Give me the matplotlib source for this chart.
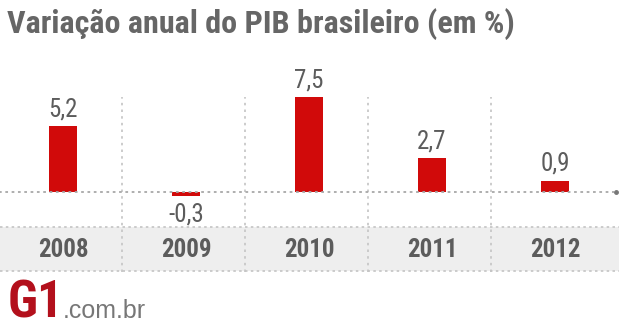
import matplotlib.pyplot as plt
from matplotlib import font_manager

anos = ["2008", "2009", "2010", "2011", "2012"]
pib = [5.2, -0.3, 7.5, 2.7, 0.9]
rotulos = ["5,2", "-0,3", "7,5", "2,7", "0,9"]
titulo = "Variação anual do PIB brasileiro (em %)"

W, H = 619, 330
nomes = {f.name for f in font_manager.fontManager.ttflist}
estreita = next((n for n in ["Roboto Condensed", "Liberation Sans Narrow",
                             "Archivo Narrow", "Barlow Condensed"] if n in nomes),
                "DejaVu Sans")

cinza_txt = "#5c5c5c"
vermelho = "#d10a0a"
pontilhado = "#c4c4c4"

fig = plt.figure(figsize=(W / 100, H / 100), dpi=100)

# eixo ocupa a figura toda: x em "anos", y em pontos percentuais
# zero fica a 192 px do topo, 12.6 px por ponto percentual
esc = 12.6
ax = fig.add_axes([0, 0, 1, 1])
ax.set_xlim(-63 / 123, (W - 63) / 123)
ax.set_ylim((192 - H) / esc, 192 / esc)
ax.axis("off")


def fx(px):
    return px / W


def fy(py):
    return 1 - py / H


def val(py):
    # pixel a partir do topo -> valor no eixo y
    return (192 - py) / esc


# faixa cinza dos anos
ax.axhspan(val(271), val(227), color="#eeeeee", lw=0, zorder=0)
for py in (227, 271):
    ax.axhline(val(py), color=pontilhado, lw=1.2, ls=(0, (1.5, 2)), zorder=1)

# divisórias verticais
for i in range(len(anos) - 1):
    ax.axvline(i + 0.48, ymin=fy(272), ymax=fy(97), color=pontilhado,
               lw=1.2, ls=(0, (1.5, 2.5)), zorder=1)

x = list(range(len(anos)))
ax.bar(x, pib, width=0.235, color=vermelho, zorder=2)

# linha do zero
ax.plot([-0.52, (614 - 63) / 123], [0, 0], color="#a8a8a8", lw=1.3,
        ls=(0, (1.5, 2)), zorder=3)
ax.plot([(616 - 63) / 123], [0], marker="o", ms=2.5, color="#777777", zorder=3)

for xi, v, r in zip(x, pib, rotulos):
    if v >= 0:
        ax.annotate(r, (xi, v), xytext=(0, 7), textcoords="offset points",
                    ha="center", va="baseline", fontsize=18, color=cinza_txt,
                    family=estreita)
    else:
        ax.annotate(r, (xi, v), xytext=(0, -5), textcoords="offset points",
                    ha="center", va="top", fontsize=18, color=cinza_txt,
                    family=estreita)

for xi, a in zip(x, anos):
    ax.text(xi, val(257), a, ha="center", va="baseline", fontsize=18,
            fontweight="bold", color=cinza_txt, family=estreita)

t = fig.text(fx(7), fy(33), titulo, ha="left", va="baseline", fontsize=23,
             fontweight="bold", color="#666666", family=estreita)
# ajusta o tamanho do título para ocupar ~510 px
r = fig.canvas.get_renderer()
larg = t.get_window_extent(r).width
t.set_fontsize(23 * 510 / larg)

# marca do site
fig.text(fx(8), fy(318), "G1", ha="left", va="baseline", fontsize=37,
         fontweight="black", color="#b3101c", family=estreita)
fig.text(fx(63), fy(318), ".com.br", ha="left", va="baseline", fontsize=18,
         color="#777777", family="Liberation Sans")

fig.savefig("out.png", dpi=100)
